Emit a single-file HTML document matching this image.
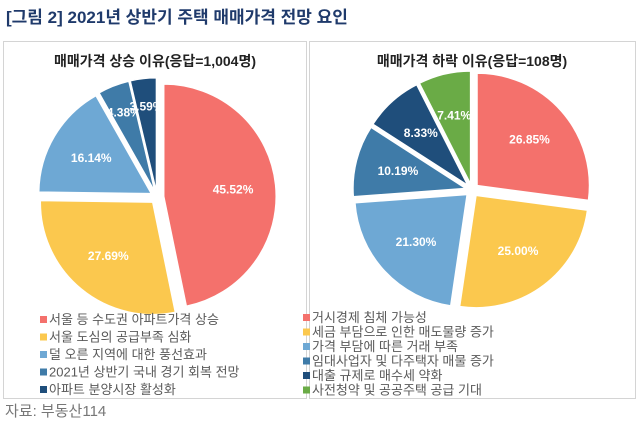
<!DOCTYPE html>
<html><head><meta charset="utf-8">
<style>
body{margin:0;width:637px;height:421px;background:#fff;font-family:"Liberation Sans","Noto Sans CJK KR",sans-serif;position:relative;overflow:hidden}
.title{position:absolute;left:6px;top:3px;font-size:17px;font-weight:bold;color:#1f3a6b}
.panel{position:absolute;top:41px;height:356px;border:1px solid #d4d4d4;background:#fff}
.src{position:absolute;left:5px;top:400px;font-size:15px;color:#777}
svg{position:absolute;left:0;top:0}
</style></head><body>
<div class="title">[그림 2] 2021년 상반기 주택 매매가격 전망 요인</div>
<div class="panel" style="left:3px;width:302px"></div>
<div class="panel" style="left:309px;width:325px"></div>
<div class="src">자료: 부동산114</div>
<svg id="chart" width="637" height="421"></svg>
<script>
const leftCats=["서울 등 수도권 아파트가격 상승","서울 도심의 공급부족 심화","덜 오른 지역에 대한 풍선효과","2021년 상반기 국내 경기 회복 전망","아파트 분양시장 활성화"];
const leftVals=[45.52,27.69,16.14,4.38,3.59];
const rightCats=["거시경제 침체 가능성","세금 부담으로 인한 매도물량 증가","가격 부담에 따른 거래 부족","임대사업자 및 다주택자 매물 증가","대출 규제로 매수세 약화","사전청약 및 공공주택 공급 기대"];
const rightVals=[26.85,25.00,21.30,10.19,8.33,7.41];
const leftColors=["#f4716c","#fbc84e","#6ea8d4","#3f7ba8","#1f4e7b"];
const rightColors=["#f4716c","#fbc84e","#6ea8d4","#3f7ba8","#1f4e7b","#6aab46"];
const NS="http://www.w3.org/2000/svg";
const svg=document.getElementById('chart');
function mk(t,a){const e=document.createElementNS(NS,t);for(const k in a)e.setAttribute(k,a[k]);svg.appendChild(e);return e;}
function pie(vals,colors,cx,cy,r,ex,prefix){
  const tot=vals.reduce((a,b)=>a+b,0);let a0=0;
  vals.forEach((v,i)=>{
    const a1=a0+v/tot*2*Math.PI,mid=(a0+a1)/2;
    const dx=ex*Math.sin(mid),dy=-ex*Math.cos(mid);
    const x0=cx+dx+r*Math.sin(a0),y0=cy+dy-r*Math.cos(a0),x1=cx+dx+r*Math.sin(a1),y1=cy+dy-r*Math.cos(a1);
    const p=mk('path',{d:`M${cx+dx},${cy+dy}L${x0},${y0}A${r},${r} 0 ${a1-a0>Math.PI?1:0} 1 ${x1},${y1}Z`,fill:colors[i],stroke:'#fff','stroke-width':1});
    
    
    const lr=r*(v<6?0.75:0.62);
    const t=mk('text',{x:cx+dx+lr*Math.sin(mid),y:cy+dy-lr*Math.cos(mid)+4,'text-anchor':'middle','font-size':12,'font-weight':'bold',fill:'#fff'});
    t.textContent=v.toFixed(2)+'%';
    
    
    a0=a1;
  });
}
function legend(cats,colors,x,y0,step,prefix){
  cats.forEach((c,i)=>{
    const y=y0+i*step;
    const s=mk('rect',{x:x,y:y-8,width:7,height:7,fill:colors[i]});
    
    
    const t=mk('text',{x:x+9,y:y,'font-size':13,fill:'#595959'});
    t.textContent=c;
    
    
  });
}
function title(txt,x,prefix){
  const t=mk('text',{x:x,y:66,'text-anchor':'middle','font-size':14,'font-weight':'bold',fill:'#222'});
  t.textContent=txt;
  
  
}
title("매매가격 상승 이유(응답=1,004명)",155,'left');
title("매매가격 하락 이유(응답=108명)",472,'right');
pie(leftVals,leftColors,157,197,112,7,'left');
pie(rightVals,rightColors,472,190,112,7,'right');
legend(leftCats,leftColors,40,324,17.5,'left');
legend(rightCats,rightColors,303,322,14.5,'right');
</script>
</body></html>
